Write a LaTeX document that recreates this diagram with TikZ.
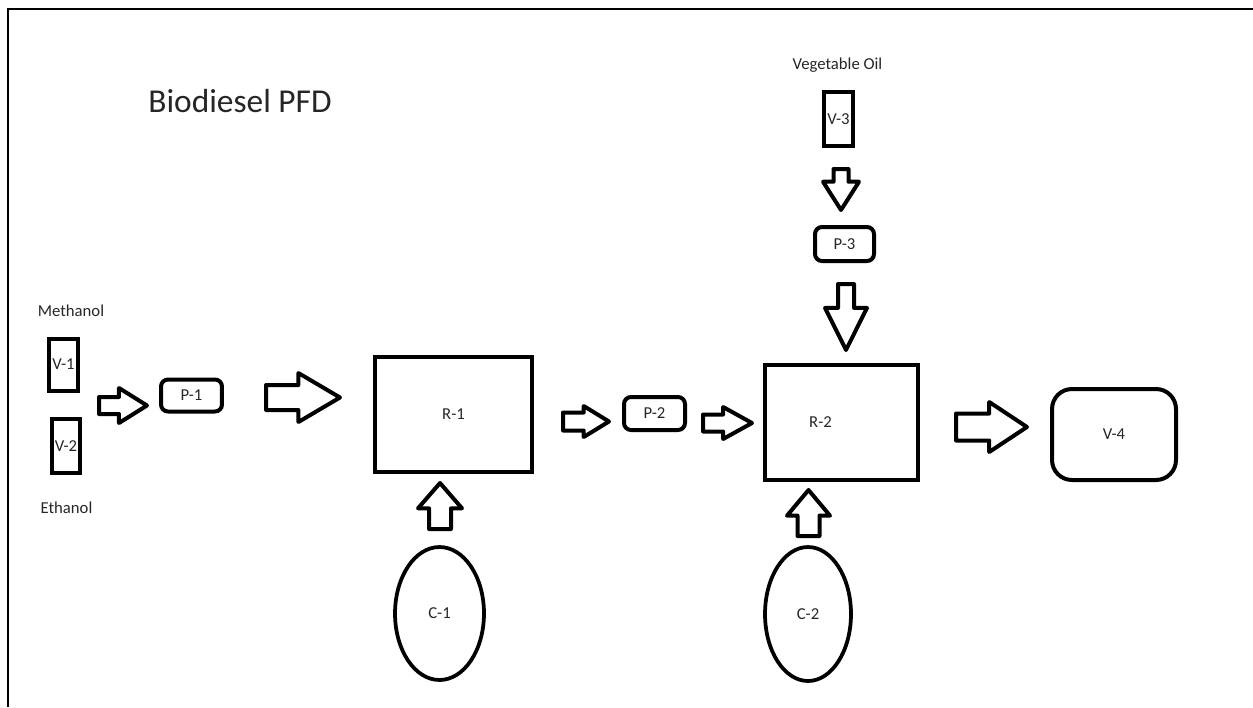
\documentclass[tikz,border=0pt]{standalone}
\usepackage{fontspec}
\setmainfont{Carlito}
\usetikzlibrary{shapes.geometric, shapes.arrows}

\begin{document}
\begin{tikzpicture}[
    x=0.02cm, y=-0.02cm,
    every node/.style={font=\fontsize{9.5}{11}\selectfont, text=black!85},
    vessel/.style={draw, line width=0.08cm, minimum width=0.58cm, minimum height=1.04cm, inner sep=0pt},
    pump/.style={draw, line width=0.08cm, rounded corners=0.14cm, minimum width=1.22cm, minimum height=0.64cm, inner sep=0pt},
    reactor/.style={draw, line width=0.08cm, minimum height=2.3cm, inner sep=0pt},
    cond/.style={draw, ellipse, line width=0.075cm, inner sep=0pt},
    blk/.style n args={4}{single arrow, draw, line width=0.08cm, line join=round, inner sep=#2/2,
        single arrow head extend={(#3-#2)/2}, minimum height=#1, single arrow tip angle=#4, anchor=tail}
]
\useasboundingbox (0,0) rectangle (1253,707);
% page frame
\draw[line width=0.04cm] (8,707) -- (8,9) -- (1253,9);
% texts
\node[anchor=base, font=\fontsize{19}{22}\selectfont] (title) at (240,112) {Biodiesel PFD};
\node[anchor=base] (meth) at (71,316) {Methanol};
\node[anchor=base] (eth) at (66.5,513) {Ethanol};
\node[anchor=base] (oil) at (837.5,69) {Vegetable Oil};
% vessels and pumps
\node[vessel] (v1) at (63.5,364.5) {V-1};
\node[vessel, minimum width=0.56cm, minimum height=1.08cm] (v2) at (66,446) {V-2};
\node[vessel, minimum height=1.08cm] (v3) at (838.5,119) {V-3};
\node[pump] (p1) at (191.5,395.5) {P-1};
\node[pump, minimum height=0.66cm] (p2) at (654.5,413.5) {P-2};
\node[pump, minimum width=1.18cm, minimum height=0.68cm] (p3) at (844.5,244) {P-3};
% reactors
\node[reactor, minimum width=3.14cm] (r1) at (453.5,414.5) {R-1};
\node[reactor, minimum width=3.06cm, label={[xshift=-0.42cm]center:R-2}] (r2) at (841.5,422.5) {};
\node[draw, line width=0.08cm, rounded corners=0.4cm, minimum width=2.48cm, minimum height=1.82cm] (v4) at (1114,434.5) {V-4};
% condensers
\node[cond, minimum width=1.78cm, minimum height=2.66cm] (c1) at (439.5,613.5) {C-1};
\node[cond, minimum width=1.72cm, minimum height=2.68cm] (c2) at (808,614) {C-2};
% block arrows
\node[blk={0.96cm}{0.26cm}{0.62cm}{64}] (a1) at (97,405.5) {};
\node[blk={1.48cm}{0.42cm}{0.90cm}{61}] (a2) at (264,397.5) {};
\node[blk={0.92cm}{0.28cm}{0.54cm}{63}] (a3) at (561,421.5) {};
\node[blk={0.98cm}{0.26cm}{0.56cm}{58}] (a4) at (701,423) {};
\node[blk={1.42cm}{0.46cm}{0.92cm}{67}] (a5) at (954,427) {};
\node[blk={0.82cm}{0.22cm}{0.64cm}{65}, shape border rotate=270] (d1) at (841,167) {};
\node[blk={1.32cm}{0.24cm}{0.76cm}{53}, shape border rotate=270] (d2) at (846,282) {};
\node[blk={0.92cm}{0.36cm}{0.80cm}{82}, shape border rotate=90] (u1) at (440,531) {};
\node[blk={0.92cm}{0.36cm}{0.78cm}{80}, shape border rotate=90] (u2) at (808.5,538) {};
\end{tikzpicture}
\end{document}
